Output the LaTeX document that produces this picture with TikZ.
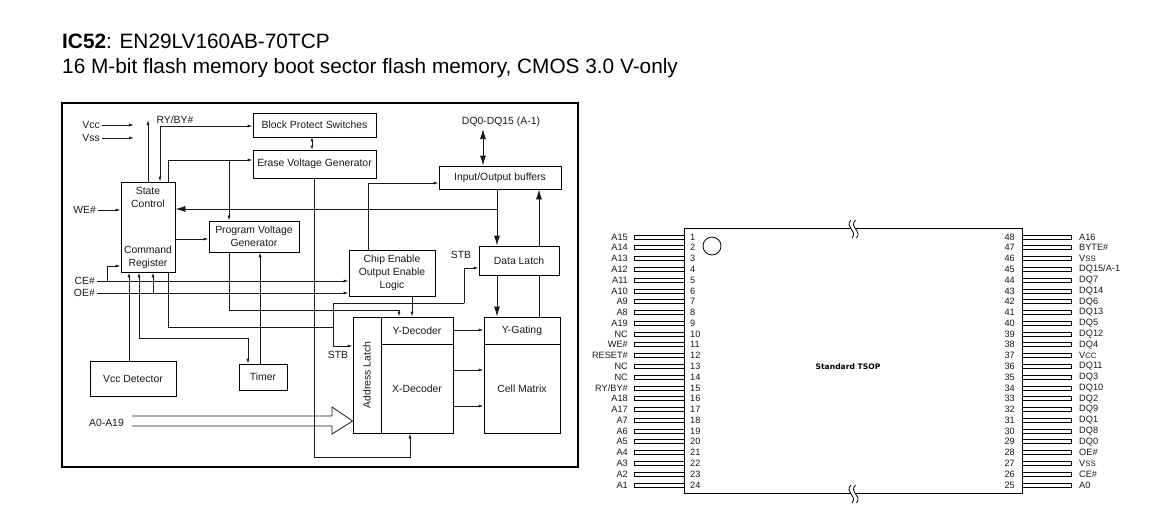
\documentclass[tikz,border=0pt]{standalone}
\usepackage{fontspec}
\setmainfont{Liberation Sans}
\newfontfamily\tsopfont{DejaVu Sans}
\usetikzlibrary{arrows.meta,positioning}
\newcommand{\subcaps}[1]{{\fontsize{7.8}{8}\selectfont #1}}
\begin{document}
\begin{tikzpicture}[
            x=1pt, y=-1pt,
            every node/.style={inner sep=0pt, align=center, font=\fontsize{10.4}{13}\selectfont},
            blockbox/.style={draw, line width=0.8pt, text=black!90},
            sig/.style={inner sep=2pt, text=black!90},
            wire/.style={line width=0.8pt, draw=black!90},
            tip/.style={wire, -{Latex[length=5pt,width=3pt]}},
            bigtip/.style={wire, -{Latex[length=10pt,width=6pt]}},
            pinbox/.style={draw, line width=0.8pt, fill=white, minimum height=4pt},
            pinname/.style={font=\fontsize{9.2}{11}\selectfont, text=black!90}
        ]
        \useasboundingbox (0,0) rectangle (1156,507);

        \node[anchor=west, align=left, font=\fontsize{20.8}{25.6}\selectfont] (title) at (62,56)
            {\textbf{IC52}: EN29LV160AB-70TCP\\
            16 M-bit flash memory boot sector flash memory, CMOS 3.0 V-only};

        \node[draw, line width=2pt, minimum width=516pt, minimum height=364pt] (frame) at (320,285) {};

        \node[blockbox, minimum width=123pt, minimum height=24pt] (block) at (314.5,125) {Block Protect Switches};
        \node[blockbox, minimum width=123pt, minimum height=28pt] (erase) at (314.5,164) {Erase Voltage Generator};
        \node[blockbox, minimum width=54pt, minimum height=90pt] (state) at (148,227) {};
        \node[text=black!90] (statetext) at (148,197) {State\\Control};
        \node[text=black!90] (cmdtext) at (148,257) {Command\\Register};
        \node[blockbox, minimum width=90pt, minimum height=31pt] (program) at (254,236.5) {Program Voltage\\Generator};
        \node[blockbox, minimum width=122pt, minimum height=23pt] (iobuf) at (500,177.5) {Input/Output buffers};
        \node[blockbox, minimum width=86pt, minimum height=46pt] (chipen) at (392,273) {Chip Enable\\Output Enable\\Logic};
        \node[blockbox, minimum width=80pt, minimum height=29pt] (datalatch) at (519,260.5) {Data Latch};
        \node[blockbox, minimum width=28pt, minimum height=116pt] (addrlatch) at (367,375) {\rotatebox{90}{Address Latch}};
        \node[blockbox, minimum width=72pt, minimum height=27pt] (ydec) at (417,330.5) {Y-Decoder};
        \node[blockbox, minimum width=72pt, minimum height=89pt] (xdec) at (417,388.5) {X-Decoder};
        \node[blockbox, minimum width=76pt, minimum height=27pt] (ygate) at (522,330.5) {Y-Gating};
        \node[blockbox, minimum width=76pt, minimum height=89pt] (cellmatrix) at (522,388.5) {Cell Matrix};
        \node[blockbox, minimum width=86pt, minimum height=35pt] (vccdet) at (133,378.5) {Vcc Detector};
        \node[blockbox, minimum width=48pt, minimum height=26pt] (timer) at (263,377) {Timer};

        \node[sig, anchor=east] (vcc) at (102,125) {Vcc};
        \node[sig, anchor=east] (vss) at (102,138) {Vss};
        \node[sig, anchor=east] (we) at (98,210) {WE\#};
        \node[sig, anchor=east] (ce) at (97,281) {CE\#};
        \node[sig, anchor=east] (oe) at (97,293) {OE\#};
        \node[sig] (rdy) at (175,120) {RY/BY\#};
        \node[sig] (dq) at (501,122) {DQ0-DQ15 (A-1)};
        \node[sig] (stbtop) at (461,255) {STB};
        \node[sig] (stbleft) at (338,355) {STB};
        \node[sig, anchor=east] (addr) at (126,423) {A0-A19};

        \coordinate (vccend) at (134,125);
        \coordinate (vssend) at (134,138);
        \coordinate (rdyend) at (148,120);
        \coordinate (bufjoin) at (497,209);
        \coordinate (erasejoin) at (229,160);
        \coordinate (timerjoin) at (139,338);
        \coordinate (stbjoin) at (464,303);

        \draw[tip] (vcc.east) -- (vccend);
        \draw[tip] (vss.east) -- (vssend);
        \draw[tip] (state.north -| rdyend) -- (rdyend);
        \draw[tip] (we.east) -- (we.east -| state.west);
        \draw[wire, {Latex[length=5pt,width=3pt]}-{Latex[length=5pt,width=3pt]}] (state.north -| 160,0) -- (160,126) -- (block.west |- 0,126);
        \draw[wire, {Latex[length=4pt,width=3pt]}-{Latex[length=4pt,width=3pt]}] (block.south -| 312,0) -- (erase.north -| 312,0);
        \draw[tip] (state.north -| 168,0) -- (168,160) -- (erase.west |- erasejoin);
        \draw[tip] (erasejoin) -- (program.north -| erasejoin);
        \draw[tip] (state.east |- 0,239) -- (program.west |- 0,239);
        \draw[wire, {Latex[length=10pt,width=6pt]}-{Latex[length=10pt,width=6pt]}] (dq.south -| 483,0) -- (iobuf.north -| 483,0);
        \draw[bigtip] (iobuf.south -| bufjoin) -- (datalatch.north -| bufjoin);
        \draw[bigtip] (bufjoin) -- (state.east |- bufjoin);
        \draw[bigtip] (datalatch.north -| 539,0) -- (iobuf.south -| 539,0);
        \draw[bigtip] (datalatch.south -| bufjoin) -- (ygate.north -| bufjoin);
        \draw[wire] (ygate.north -| 539,0) -- (datalatch.south -| 539,0);
        \draw[tip] (chipen.north -| 368,0) -- (368,183) -- (iobuf.west |- 0,183);
        \draw[tip] (erase.south -| 314,0) -- (314,457) -- (410,457) -- (xdec.south -| 410,0);
        \draw[tip] (ce.east) -- (chipen.west |- ce.east);
        \draw[tip] (oe.east) -- (chipen.west |- oe.east);
        \draw[tip] (107,281) -- (107,266) -- (state.west |- 0,266);
        \draw[tip] (153,293) -- (state.south -| 153,0);
        \draw[tip] (vccdet.north -| 129,0) -- (state.south -| 129,0);
        \draw[tip] (timerjoin) -- (state.south -| timerjoin);
        \draw[tip] (timerjoin) -- (248,338) -- (timer.north -| 248,0);
        \draw[tip] (timer.north -| 260,0) -- (program.south -| 260,0);
        \draw[wire] (state.south -| 168,0) -- (168,327) -- (333,327);
        \draw[tip] (program.south -| 229,0) -- (229,310) -- (399,310) -- (ydec.north -| 399,0);
        \draw[tip] (chipen.south -| 412,0) -- (ydec.north -| 412,0);
        \draw[tip] (stbjoin) -- (464,268) -- (datalatch.west |- 0,268);
        \draw[tip] (stbjoin) -- (333,303) -- (333,346) -- (addrlatch.west |- 0,346);
        \draw[tip] (ydec.east |- 0,330) -- (ygate.west |- 0,330);
        \draw[tip] (xdec.east |- 0,370) -- (cellmatrix.west |- 0,370);
        \draw[tip] (xdec.east |- 0,406) -- (cellmatrix.west |- 0,406);
        \draw[wire] (132,416) -- (332,416) -- (332,407) -- (addrlatch.west |- 0,421) -- (332,434) -- (332,426) -- (132,426);

        \node[draw, line width=0.9pt, minimum width=338pt, minimum height=265pt] (tsop) at (853,360.5) {};
        \node[draw, line width=0.8pt, circle, minimum size=18pt] (dot) at (712,246) {};
        \node[font=\tsopfont\bfseries\fontsize{7.6}{9}\selectfont] (tsoptext) at (848,367) {Standard TSOP};

        \foreach \n/\name in {1/A15,2/A14,3/A13,4/A12,5/A11,6/A10,7/A9,8/A8,9/A19,10/NC,11/WE\#,12/RESET\#,
                13/NC,14/NC,15/{RY/BY\#},16/A18,17/A17,18/A7,19/A6,20/A5,21/A4,22/A3,23/A2,24/A1} {
            \pgfmathsetmacro{\ypos}{237+(\n-1)*10.78}
            \node[pinbox, minimum width=50pt] (pin\n) at (659,\ypos) {};
            \node[pinname, anchor=east] (name\n) at (628,\ypos) {\name};
            \node[pinname, anchor=west] (num\n) at (690,\ypos) {\n};
        }
        \foreach \n/\name in {48/A16,47/BYTE\#,46/V\subcaps{SS},45/{DQ15/A-1},44/DQ7,43/DQ14,42/DQ6,41/DQ13,40/DQ5,39/DQ12,38/DQ4,37/V\subcaps{CC},
                36/DQ11,35/DQ3,34/DQ10,33/DQ2,32/DQ9,31/DQ1,30/DQ8,29/DQ0,28/OE\#,27/V\subcaps{SS},26/CE\#,25/A0} {
            \pgfmathsetmacro{\ypos}{237+(48-\n)*10.78}
            \node[pinbox, minimum width=49pt] (pin\n) at (1046.5,\ypos) {};
            \node[pinname, anchor=west] (name\n) at (1079,\ypos) {\name};
            \node[pinname, anchor=east] (num\n) at (1015,\ypos) {\n};
        }

        \foreach \ybreak in {228,493} {
            \fill[white] (851,\ybreak-3) rectangle (856,\ybreak+3);
            \draw[line width=0.8pt] (851,\ybreak-8) .. controls (844,\ybreak-1) and (858,\ybreak+3) .. (852,\ybreak+10);
            \draw[line width=0.8pt] (855.5,\ybreak-8) .. controls (848.5,\ybreak-1) and (862.5,\ybreak+3) .. (856.5,\ybreak+10);
        }

    \end{tikzpicture}
\end{document}
